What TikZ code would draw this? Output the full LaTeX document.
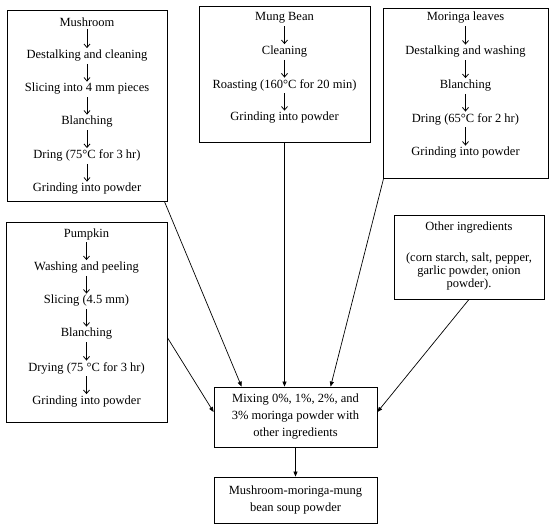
\documentclass[tikz,border=0pt]{standalone}
\usepackage{fontspec}
\setmainfont{Liberation Serif}
\usetikzlibrary{arrows.meta,calc}
\begin{document}
\begin{tikzpicture}[x=1pt,y=-1pt,
  box/.style={draw,line width=0.8pt,inner sep=0pt},
  txt/.style={inner sep=1pt,font=\fontsize{12.5}{14}\selectfont},
  sarr/.style={-{Straight Barb[length=3.5pt,width=6pt]},line width=0.8pt,shorten <=1.5pt,shorten >=0.5pt},
  marr/.style={-{Triangle[length=5pt,width=4pt]},line width=0.7pt}]
\useasboundingbox (0,0) rectangle (550,531);
% boxes
\node[box,minimum width=160pt,minimum height=191pt] (b1) at (87,105.5) {};
\node[box,minimum width=171pt,minimum height=136pt] (b2) at (284.5,74) {};
\node[box,minimum width=165pt,minimum height=170pt] (b3) at (465.5,93) {};
\node[box,minimum width=161pt,minimum height=200pt] (b4) at (86.5,322) {};
\node[box,minimum width=150pt,minimum height=84pt] (b5) at (469,257) {};
\node[box,minimum width=163pt,minimum height=60pt,align=center,font=\fontsize{12.5}{17}\selectfont] (mix) at (295.5,417) {Mixing 0\%, 1\%, 2\%, and\\3\% moringa powder with\\other ingredients};
\node[box,minimum width=163pt,minimum height=46pt,align=center,font=\fontsize{12.5}{17}\selectfont] (fin) at (295.5,500) {Mushroom-moringa-mung\\bean soup powder};
% mushroom
\node[txt] (m1) at (87,22) {Mushroom};
\node[txt] (m2) at (87,55.5) {Destalking and cleaning};
\node[txt] (m3) at (87,89) {Slicing into 4 mm pieces};
\node[txt] (m4) at (87,122) {Blanching};
\node[txt] (m5) at (87,155.5) {Dring (75°C for 3 hr)};
\node[txt] (m6) at (87,189) {Grinding into powder};
\foreach \a/\b in {m1/m2,m2/m3,m3/m4,m4/m5,m5/m6} \draw[sarr] (\a.south) -- (\b.north);
% mung bean
\node[txt] (g1) at (284.5,18) {Mung Bean};
\node[txt] (g2) at (284.5,51.5) {Cleaning};
\node[txt] (g3) at (284.5,85) {Roasting (160°C for 20 min)};
\node[txt] (g4) at (284.5,118) {Grinding into powder};
\foreach \a/\b in {g1/g2,g2/g3,g3/g4} \draw[sarr] (\a.south) -- (\b.north);
% moringa
\node[txt] (r1) at (465.5,18) {Moringa leaves};
\node[txt] (r2) at (465.5,52) {Destalking and washing};
\node[txt] (r3) at (465.5,85.5) {Blanching};
\node[txt] (r4) at (465.5,119) {Dring (65°C for 2 hr)};
\node[txt] (r5) at (465.5,153) {Grinding into powder};
\foreach \a/\b in {r1/r2,r2/r3,r3/r4,r4/r5} \draw[sarr] (\a.south) -- (\b.north);
% pumpkin
\node[txt] (p1) at (86.5,234) {Pumpkin};
\node[txt] (p2) at (86.5,267.5) {Washing and peeling};
\node[txt] (p3) at (86.5,301) {Slicing (4.5 mm)};
\node[txt] (p4) at (86.5,334) {Blanching};
\node[txt] (p5) at (86.5,368) {Drying (75 °C for 3 hr)};
\node[txt] (p6) at (86.5,401.5) {Grinding into powder};
\foreach \a/\b in {p1/p2,p2/p3,p3/p4,p4/p5,p5/p6} \draw[sarr] (\a.south) -- (\b.north);
% other ingredients
\node[txt] (o1) at (469,228) {Other ingredients};
\node[inner sep=1pt,align=center,font=\fontsize{12.5}{12.8}\selectfont] (o2) at (469,271.5) {(corn starch, salt, pepper,\\garlic powder, onion\\powder).};
% main connectors
\coordinate (s1) at ($(b1.south east)+(-3,0)$);
\coordinate (e1) at ($(mix.north west)+(28,0)$);
\draw[marr] (s1) -- (e1);
\draw[marr] (b2.south) -- (b2.south |- mix.north);
\coordinate (s3) at ($(b3.south west)+(1,0)$);
\coordinate (e3) at ($(mix.north west)+(117,0)$);
\draw[marr] (s3) -- (e3);
\coordinate (s4) at ($(b4.north east)+(0,116)$);
\coordinate (e4) at ($(mix.west)+(0,-5)$);
\draw[marr] (s4) -- (e4);
\coordinate (e5) at ($(mix.east)+(0,-5)$);
\draw[marr] (b5.south) -- (e5);
\draw[marr] (mix.south) -- (fin.north);
\end{tikzpicture}
\end{document}
